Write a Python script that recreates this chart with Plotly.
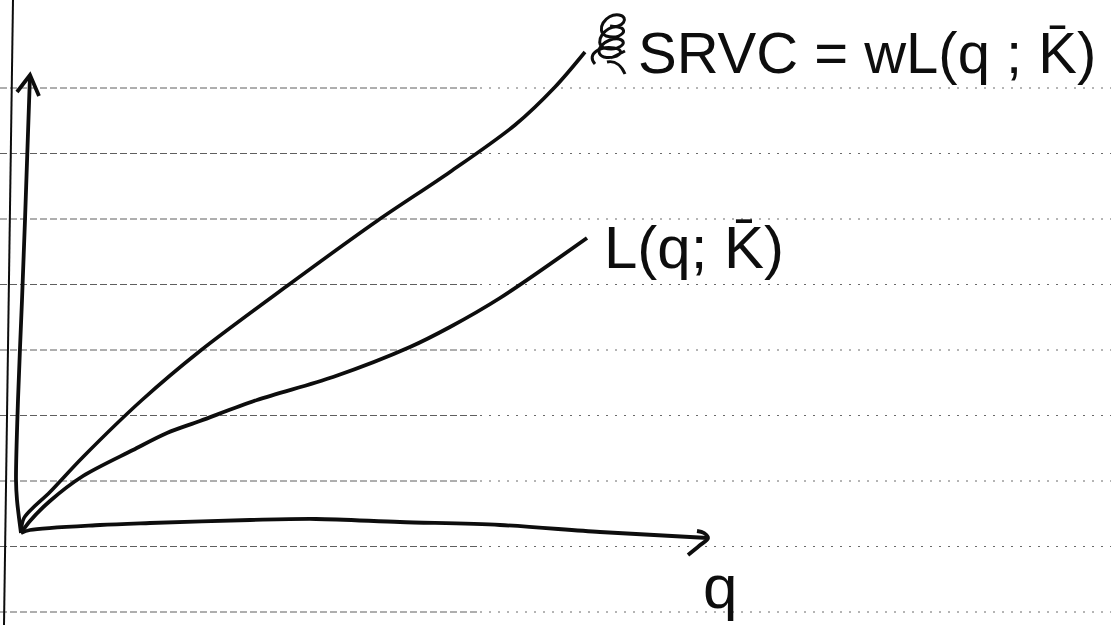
import plotly.graph_objects as go

# Short-run variable cost sketch: SRVC = w * L(q; K-bar) and the labour requirement L(q; K-bar)
# Coordinates: q along the horizontal axis, cost / labour up the vertical axis (origin at the corner).

# SRVC curve
srvc_q = [0, 3, 29, 62, 121, 179, 266, 356, 429, 494, 534, 564]
srvc_v = [0, 15, 41, 76, 133, 182, 247, 312, 361, 408, 446, 481]

# L(q; K-bar) curve
lab_q = [0, 9, 29, 62, 112, 146, 179, 236, 312, 389, 429, 479, 566]
lab_v = [0, 12, 32, 57, 83, 100, 112, 133, 156, 186, 206, 235, 295]

# hand-drawn axes
qaxis_q = [0, 9, 79, 129, 229, 295, 379, 479, 579, 687]
qaxis_v = [0, 3, 8, 10, 13, 14, 11, 8, 1, -5]
vaxis_q = [0, -4, -5, -3, 1, 4, 9]
vaxis_v = [0, 33, 53, 133, 233, 313, 458]

W, H = 1111, 625
X0, Y0 = 21, 533          # pixel position of the origin
INK = "#0d0d0d"

fig = go.Figure()

# notebook ruling
rule_top, rule_gap, rule_n = 88, 65.5, 9
for k in range(rule_n):
    yy = Y0 - (rule_top + k * rule_gap)
    fig.add_shape(type="line", x0=-X0, x1=480 - X0, y0=yy, y1=yy,
                  line=dict(color="#5f5f5f", width=1, dash="7px,3px"), layer="below")
    fig.add_shape(type="line", x0=480 - X0, x1=W - X0, y0=yy, y1=yy,
                  line=dict(color="#6a6a6a", width=1, dash="2px,7px"), layer="below")

# paper margin line
fig.add_shape(type="line", x0=13 - X0, y0=Y0, x1=4 - X0, y1=Y0 - H,
              line=dict(color=INK, width=2), layer="below")

def stroke(xs, ys, w=3.6):
    fig.add_trace(go.Scatter(x=xs, y=ys, mode="lines",
                             line=dict(color=INK, width=w, shape="spline", smoothing=0.9),
                             hoverinfo="skip", showlegend=False))

stroke(vaxis_q, vaxis_v, 3.8)
stroke(qaxis_q, qaxis_v, 3.8)
stroke(srvc_q, srvc_v, 3.6)
stroke(lab_q, lab_v, 3.8)

# arrow heads (offsets from each axis tip)
tq, tv = vaxis_q[-1], vaxis_v[-1]
fig.add_trace(go.Scatter(x=[tq - 13, tq, tq + 9], y=[tv - 17, tv, tv - 21], mode="lines",
                         line=dict(color=INK, width=3.8), hoverinfo="skip", showlegend=False))
tq, tv = qaxis_q[-1], qaxis_v[-1]
fig.add_trace(go.Scatter(x=[tq - 11, tq - 4, tq, tq - 9, tq - 20],
                         y=[tv + 7, tv + 5, tv, tv - 8, tv - 17], mode="lines",
                         line=dict(color=INK, width=3.8, shape="spline"),
                         hoverinfo="skip", showlegend=False))

# scribbled-out mark before the SRVC label (written in page pixels, converted to plot units)
def to_plot(px, py):
    return f"{px - X0} {Y0 - py}"

scribble_pts = [
    ("M", [(595, 64)]),
    ("C", [(586, 54), (600, 46), (614, 48)]),
    ("C", [(628, 50), (617, 60), (604, 57)]),
    ("C", [(591, 52), (606, 37), (619, 39)]),
    ("C", [(630, 42), (618, 52), (604, 48)]),
    ("C", [(593, 43), (605, 25), (618, 27)]),
    ("C", [(630, 29), (621, 40), (606, 36)]),
    ("C", [(595, 31), (605, 13), (619, 15)]),
    ("C", [(630, 17), (623, 29), (610, 26)]),
    ("M", [(607, 62)]),
    ("C", [(616, 60), (622, 67), (625, 74)]),
    ("M", [(611, 58)]),
    ("L", [(625, 51)]),
]
scribble_path = " ".join(cmd + " " + ", ".join(to_plot(*p) for p in pts)
                         for cmd, pts in scribble_pts)
fig.add_shape(type="path", path=scribble_path, xref="x", yref="y",
              line=dict(color=INK, width=3))

FONT = "Liberation Sans"
def label(text, px, py, size, anchor="left"):
    fig.add_annotation(x=px - X0, y=Y0 - py, text=text, showarrow=False,
                       xanchor=anchor, yanchor="middle",
                       font=dict(family=FONT, size=size, color=INK))

label("SRVC = wL(q ; K\u0304)", 636, 52, 58)
label("L(q; K\u0304)", 602, 247, 60)
label("q", 720, 586, 62, "center")

fig.update_layout(
    width=W, height=H,
    margin=dict(l=0, r=0, t=0, b=0),
    paper_bgcolor="white", plot_bgcolor="white",
    xaxis=dict(range=[-X0, W - X0], visible=False, fixedrange=True),
    yaxis=dict(range=[Y0 - H, Y0], visible=False, fixedrange=True),
    showlegend=False,
)

fig.write_html("out.html")
